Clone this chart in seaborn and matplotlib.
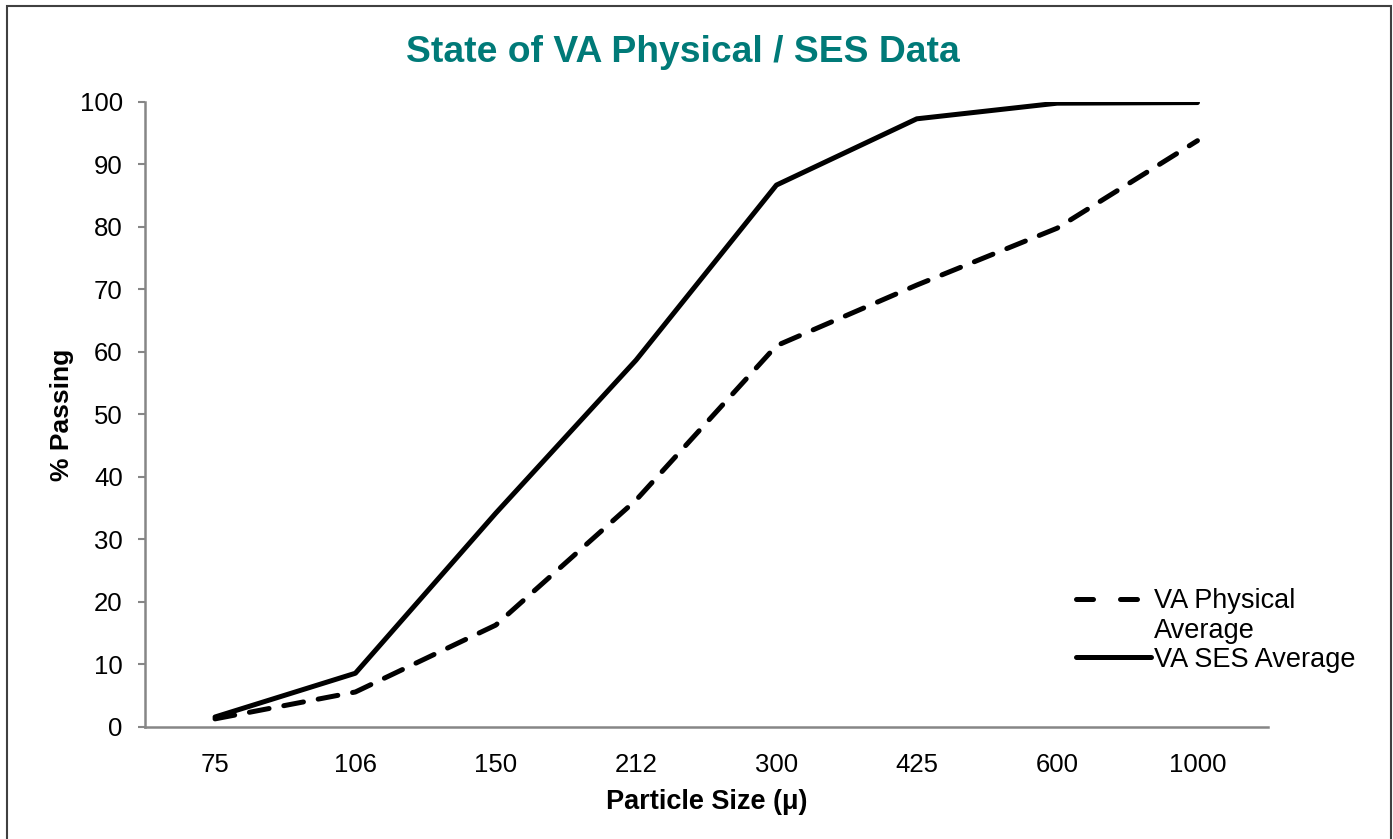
import pandas as pd
import seaborn as sns
import matplotlib.pyplot as plt
from matplotlib.lines import Line2D

# Particle sizes (sieve categories) and % passing for each series
sizes = ['75', '106', '150', '212', '300', '425', '600', '1000']
physical_avg = [1.3, 5.6, 16.3, 36.3, 61.0, 70.7, 79.8, 93.8]
ses_avg = [1.6, 8.6, 34.2, 58.7, 86.7, 97.3, 99.8, 99.9]

phys_label = 'VA Physical Average'
ses_label = 'VA SES Average'

df = pd.DataFrame({
    'size': sizes * 2,
    'passing': physical_avg + ses_avg,
    'series': [phys_label] * len(sizes) + [ses_label] * len(sizes),
})

sns.set_style('white')
plt.rcParams['font.family'] = ['Liberation Sans', 'DejaVu Sans']
plt.rcParams['text.color'] = 'black'
plt.rcParams['xtick.color'] = 'black'
plt.rcParams['ytick.color'] = 'black'
plt.rcParams['axes.labelcolor'] = 'black'

fig = plt.figure(figsize=(13.93, 8.39), dpi=100)
ax = fig.add_axes([0.104, 0.1335, 0.806, 0.745])

sns.lineplot(data=df, x='size', y='passing', hue='series', style='series',
             palette=['black', 'black'],
             dashes={phys_label: (4, 3), ses_label: ''},
             linewidth=3.6, sort=False, ax=ax, legend=False)
for ln in ax.get_lines():
    ln.set_dash_capstyle('round')
    ln.set_solid_capstyle('round')

ax.set_xlim(-0.5, len(sizes) - 0.5)
ax.set_ylim(0, 100)
ax.set_yticks(range(0, 101, 10))
ax.tick_params(axis='y', which='both', left=True, length=5, width=1.5,
               color='#868686', labelcolor='black', labelsize=18.5, pad=11)
ax.tick_params(axis='x', bottom=False, labelcolor='black', labelsize=18.5, pad=15)
for side in ['top', 'right']:
    ax.spines[side].set_visible(False)
for side in ['left', 'bottom']:
    ax.spines[side].set_color('#868686')
    ax.spines[side].set_linewidth(1.8)

ax.set_xlabel('Particle Size (\u03bc)', fontsize=19.5, fontweight='bold', labelpad=9)
ax.set_ylabel('% Passing', fontsize=19, fontweight='bold', labelpad=4)
fig.text(0.49, 0.938, 'State of VA Physical / SES Data', ha='center', va='center',
         fontsize=26.8, fontweight='bold', color='#007A78')

# legend: the long label wraps onto a second row, as in the original
handles = [
    Line2D([], [], color='black', linewidth=3.6, dashes=(3.4, 5.4), dash_capstyle='round'),
    Line2D([], [], color='none', linewidth=0),
    Line2D([], [], color='black', linewidth=3.6),
]
ax.legend(handles, ['VA Physical', 'Average', ses_label], loc='upper left',
          bbox_to_anchor=(0.82, 0.239), frameon=False, fontsize=19.5,
          handlelength=2.75, handletextpad=0.1, labelspacing=0.12,
          borderaxespad=0)

# outer chart border
border = plt.Rectangle((0.005, -0.05), 0.9935, 1.043, transform=fig.transFigure,
                       fill=False, edgecolor='#404040', linewidth=1.5)
fig.patches.append(border)

fig.savefig('out.png', dpi=100)
